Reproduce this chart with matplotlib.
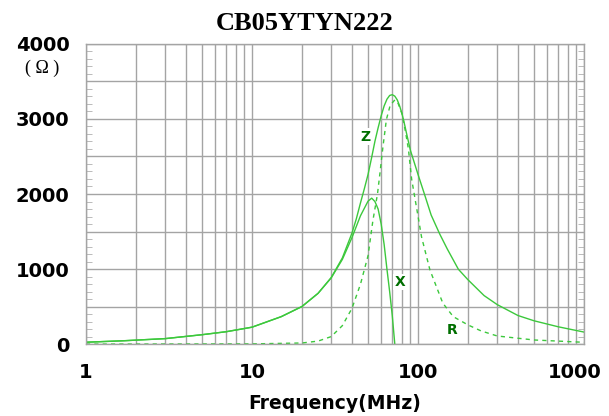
import numpy as np
import matplotlib
matplotlib.use("Agg")
import matplotlib.pyplot as plt
from matplotlib.ticker import FixedLocator, MultipleLocator, NullFormatter
from matplotlib.transforms import ScaledTranslation

# --- data (frequency in MHz, impedance in ohm) ---
z_freq = [1, 1.7, 3, 5, 7, 10, 15, 20, 25, 30, 35, 40, 42.5, 45, 47.5, 50, 52.5,
          55, 57.5, 60, 62.5, 65, 67.5, 70, 72.5, 75, 77.5, 80, 82.5, 85, 90, 100,
          110, 120, 135, 150, 175, 200, 250, 300, 400, 500, 700, 1000]
z_vals = [30, 50, 78, 130, 170, 230, 370, 505, 680, 890, 1150, 1480, 1670, 1880,
          2070, 2260, 2480, 2700, 2880, 3040, 3170, 3260, 3310, 3320, 3300, 3250,
          3170, 3070, 2950, 2820, 2580, 2260, 1980, 1720, 1470, 1270, 1000, 860,
          650, 530, 385, 315, 235, 165]

r_freq = [1, 10, 20, 25, 30, 35, 40, 45, 50, 53.5, 57, 59, 61.5, 64.5, 68, 72.5,
          76, 80, 84, 87.5, 91.5, 98.5, 105, 118, 141, 163, 200, 240, 300, 500, 1000]
r_vals = [5, 8, 20, 45, 105, 250, 480, 800, 1180, 1650, 2000, 2280, 2630, 2990,
          3180, 3250, 3200, 3070, 2830, 2600, 2200, 1790, 1430, 990, 550, 370,
          260, 180, 113, 60, 29]

x_freq = [1, 1.7, 3, 5, 7, 10, 15, 20, 25, 30, 35, 40, 45, 50, 52.6, 55, 57.5,
          60, 62.5, 65, 67.5, 70, 72.5, 74]
x_vals = [30, 50, 78, 130, 170, 230, 370, 505, 680, 885, 1130, 1420, 1710, 1905,
          1945, 1900, 1800, 1600, 1330, 1000, 700, 380, 0, -250]

x_ticks = [1, 10, 100, 1000]
x_tick_labels = ["1", "10", "100", "1000"]
y_ticks = [0, 500, 1000, 1500, 2000, 2500, 3000, 3500, 4000]
y_tick_labels = ["0", "", "1000", "", "2000", "", "3000", "", "4000"]

line_green = "#3cc83c"
label_green = "#006e00"
grid_gray = "#a4a4a4"

fig = plt.figure(figsize=(6.09, 4.16), dpi=100)
ax = fig.add_axes([0.1412, 0.1719, 0.8178, 0.7235])

ax.plot(z_freq, z_vals, color=line_green, lw=1.0)
ax.plot(r_freq, r_vals, color=line_green, lw=1.0, dashes=(3, 3))
ax.plot(x_freq, x_vals, color=line_green, lw=1.0)

ax.set_xscale("log")
ax.set_xlim(1, 1000)
ax.set_ylim(0, 4000)

ax.xaxis.set_major_locator(FixedLocator(x_ticks))
ax.set_xticklabels(x_tick_labels)
ax.xaxis.set_minor_locator(FixedLocator(
    [m * d for d in (1, 10, 100) for m in range(2, 10)]))
ax.xaxis.set_minor_formatter(NullFormatter())
ax.yaxis.set_major_locator(FixedLocator(y_ticks))
ax.set_yticklabels(y_tick_labels)
ax.yaxis.set_minor_locator(MultipleLocator(100))

ax.grid(which="both", axis="x", color=grid_gray, lw=1.0)
ax.grid(which="major", axis="y", color=grid_gray, lw=1.0)
ax.set_axisbelow(True)

ax.tick_params(axis="x", which="both", length=0, pad=13)
ax.tick_params(axis="y", which="major", length=0, pad=12)
ax.tick_params(axis="y", which="minor", direction="in", length=4,
               color="#b0b0b0", left=True, right=True)
for lab in ax.get_xticklabels() + ax.get_yticklabels():
    lab.set_fontweight("bold")
    lab.set_fontsize(14)
    lab.set_family("DejaVu Sans")

# the last x label sits a little left of its tick in the reference
last = ax.get_xticklabels()[-1]
last.set_transform(last.get_transform()
                   + ScaledTranslation(-0.09, 0, fig.dpi_scale_trans))

for sp in ax.spines.values():
    sp.set_color(grid_gray)
    sp.set_linewidth(1.0)

ax.set_xlabel("Frequency(MHz)", fontsize=13.5, fontweight="bold", labelpad=9)
fig.text(0.5, 0.943, "CB05YTYN222", ha="center", va="center",
         fontsize=19, fontweight="bold", family="Liberation Serif")
fig.text(0.069, 0.836, "( Ω )", ha="center", va="center", fontsize=13,
         family="Liberation Serif")

box = dict(facecolor="white", edgecolor="none", pad=1.0)
ax.text(48, 2760, "Z", color=label_green, fontsize=10, fontweight="bold",
        ha="center", va="center", bbox=box)
ax.text(78, 830, "X", color=label_green, fontsize=10, fontweight="bold",
        ha="center", va="center", bbox=box)
ax.text(160, 195, "R", color=label_green, fontsize=10, fontweight="bold",
        ha="center", va="center", bbox=box)

fig.savefig("out.png", dpi=100)
